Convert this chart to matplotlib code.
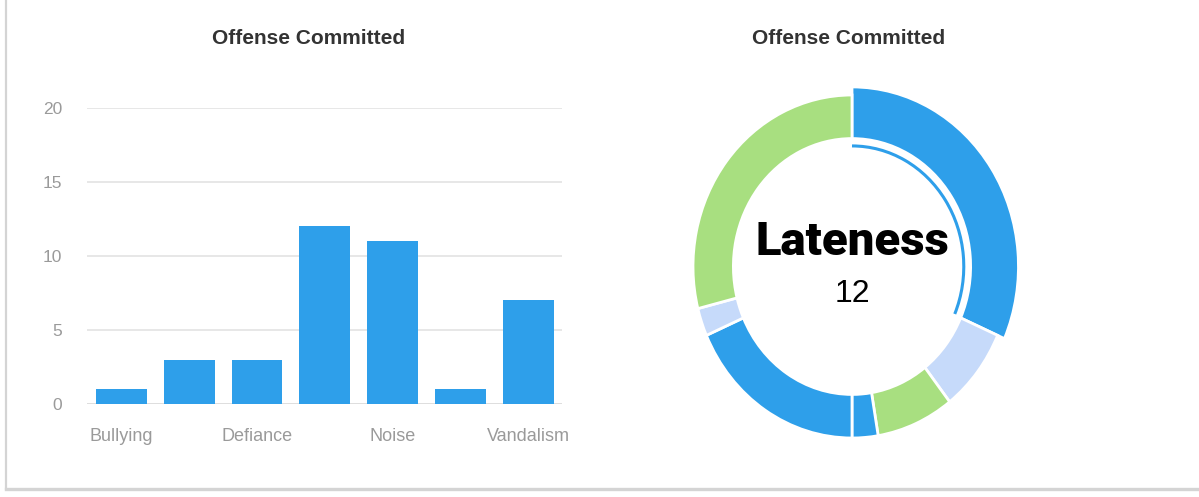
import matplotlib
matplotlib.use("Agg")
import matplotlib.pyplot as plt
from matplotlib.patches import Wedge, Arc
import numpy as np

# Offense counts
categories = ["Bullying", "Cheating", "Defiance", "Lateness", "Noise", "Theft", "Vandalism"]
counts = [1, 3, 3, 12, 11, 1, 7]
shown_labels = ["Bullying", "Defiance", "Noise", "Vandalism"]
y_ticks = [0, 5, 10, 15, 20]

# Donut ordering and colours
donut_order = ["Lateness", "Cheating", "Defiance", "Bullying", "Vandalism", "Theft", "Noise"]
donut_colors = ["#2E9FEA", "#C6DAFA", "#A8DF80", "#2E9FEA", "#2E9FEA", "#C6DAFA", "#A8DF80"]
selected = "Lateness"

title = "Offense Committed"
BLUE = "#2E9FEA"

W, H = 1199, 497
fig = plt.figure(figsize=(W / 100, H / 100), dpi=100)
fig.patch.set_facecolor("white")

def px_axes(x0, y0, x1, y1):
    # axes from pixel box (top-left origin)
    return fig.add_axes([x0 / W, 1 - y1 / H, (x1 - x0) / W, (y1 - y0) / H])

# Panel border (left and bottom)
border = fig.add_axes([0, 0, 1, 1], zorder=-5)
border.set_xlim(0, W)
border.set_ylim(H, 0)
border.axis("off")
border.plot([6, 6], [0, 489], color="#d4d4d4", lw=1.6)
border.plot([6, W], [489, 489], color="#d4d4d4", lw=2.4)

# ---- Bar chart ----
ax = px_axes(87, 108, 562, 404)
x = np.arange(len(categories))
ax.bar(x, counts, width=0.75, color=BLUE, zorder=3)
ax.set_xlim(-0.51, 6.5)
ax.set_ylim(0, 20)
for s in ax.spines.values():
    s.set_visible(False)
ax.set_yticks(y_ticks)
ax.set_yticklabels([str(v) for v in y_ticks], fontsize=12.5, color="#9a9a9a",
                   family="Liberation Sans")
ax.tick_params(axis="y", length=0, pad=18)
ax.set_xticks([categories.index(c) for c in shown_labels])
ax.set_xticklabels(shown_labels, fontsize=13, color="#9a9a9a", family="Liberation Sans")
ax.tick_params(axis="x", length=0, pad=17)
for v in y_ticks:
    ax.axhline(v, color="#e3e3e3" if v else "#d8d8d8", lw=1.2, zorder=1)

fig.text(309 / W, 1 - 38 / H, title, ha="center", va="center", fontsize=15,
         fontweight="bold", color="#333333", family="Liberation Sans")
fig.text(849 / W, 1 - 38 / H, title, ha="center", va="center", fontsize=15,
         fontweight="bold", color="#333333", family="Liberation Sans")

# ---- Donut chart ----
cx, cy = 852, 266.5
sx, sy = 159.0, 171.5
bx0, bx1, by0, by1 = 652, 1052, 66, 466
dax = px_axes(bx0, by0, bx1, by1)
dax.set_xlim((bx0 - cx) / sx, (bx1 - cx) / sx)
dax.set_ylim((cy - by1) / sy, (cy - by0) / sy)
dax.axis("off")

values = [counts[categories.index(c)] for c in donut_order]
total = sum(values)
inner = 0.746
start = 0.0
for name, val, col in zip(donut_order, values, donut_colors):
    span = 360.0 * val / total
    t1 = 90 - start
    t0 = 90 - (start + span)
    outer = 1.047 if name == selected else 1.0
    dax.add_patch(Wedge((0, 0), outer, t0, t1, width=outer - inner,
                        facecolor=col, edgecolor="white", lw=2.0))
    if name == selected:
        dax.add_patch(Arc((0, 0), 2 * 0.703, 2 * 0.703, theta1=t0 + 0.5, theta2=t1,
                          color=col, lw=2.2))
    start += span

sel_val = counts[categories.index(selected)]
dax.text(0.005, (cy - 242) / sy, selected, ha="center", va="center", fontsize=34,
         fontweight="black", color="black", family="Roboto")
dax.text(0.005, (cy - 294) / sy, str(sel_val), ha="center", va="center", fontsize=23,
         color="black", family="Liberation Sans")

fig.savefig("out.png", dpi=100, facecolor="white")
